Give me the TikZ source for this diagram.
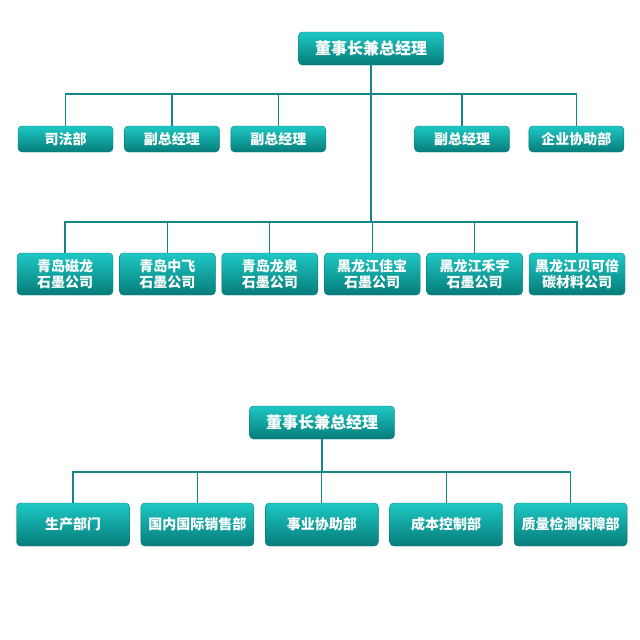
\documentclass[tikz,border=0pt]{standalone}
\usepackage{fontspec}
\newfontfamily\cjk{Noto Sans CJK SC}
\usetikzlibrary{positioning}
\definecolor{tealtop}{RGB}{30,200,196}
\definecolor{tealbot}{RGB}{6,124,122}
\definecolor{tealline}{RGB}{20,136,136}
\tikzstyle{post} = [rectangle,rounded corners=4pt,inner sep=0pt,minimum height=26pt,minimum width=95pt,text centered,draw=tealbot,top color=tealtop,bottom color=tealbot,text=white,font=\cjk\bfseries\fontsize{14}{16}\selectfont]
\tikzstyle{boss} = [post,minimum width=145pt,minimum height=33pt,font=\cjk\bfseries\fontsize{16}{18}\selectfont]
\tikzstyle{link} = [draw=tealline,line width=1.2pt]

\begin{document}
\begin{tikzpicture}[x=1pt,y=-1pt,every text node part/.style={align=center}]
\useasboundingbox (0,0) rectangle (640,640);

\node(boss1)[boss] at (371,48.5) {董事长兼总经理};

\node(r1a)[post] at (65.5,139) {司法部};
\node(r1b)[post,right=11pt of r1a]{副总经理};
\node(r1c)[post,right=11pt of r1b]{副总经理};
\node(r1d)[post] at (462,139) {副总经理};
\node(r1e)[post,right=19pt of r1d]{企业协助部};

\node(r2a)[post,minimum width=96pt,minimum height=42pt] at (65,274) {青岛磁龙\\石墨公司};
\node(r2b)[post,minimum width=96pt,minimum height=42pt,right=6pt of r2a]{青岛中飞\\石墨公司};
\node(r2c)[post,minimum width=96pt,minimum height=42pt,right=6pt of r2b]{青岛龙泉\\石墨公司};
\node(r2d)[post,minimum width=96pt,minimum height=42pt,right=6pt of r2c]{黑龙江佳宝\\石墨公司};
\node(r2e)[post,minimum width=96pt,minimum height=42pt,right=6pt of r2d]{黑龙江禾宇\\石墨公司};
\node(r2f)[post,minimum width=96pt,minimum height=42pt,right=6pt of r2e]{黑龙江贝可倍\\碳材料公司};

\node(boss2)[boss] at (322,422.5) {董事长兼总经理};

\node(d1)[post,minimum width=113pt,minimum height=43pt] at (73,524.5) {生产部门};
\node(d2)[post,minimum width=113pt,minimum height=43pt,right=11pt of d1]{国内国际销售部};
\node(d3)[post,minimum width=113pt,minimum height=43pt,right=11pt of d2]{事业协助部};
\node(d4)[post,minimum width=113pt,minimum height=43pt,right=11pt of d3]{成本控制部};
\node(d5)[post,minimum width=113pt,minimum height=43pt,right=11pt of d4]{质量检测保障部};

\coordinate(bus1) at (boss1.south |- 0,94);
\coordinate(bus2) at (boss1.south |- 0,222);
\coordinate(bus3) at (boss2.south |- 0,472);

\draw[link] (boss1.south) -- (bus2);
\foreach \n in {r1a,r1b,r1c,r1d,r1e} \draw[link] (bus1) -| (\n.north);
\foreach \n in {r2a,r2b,r2c,r2d,r2e,r2f} \draw[link] (bus2) -| (\n.north);
\draw[link] (boss2.south) -- (bus3);
\foreach \n in {d1,d2,d3,d4,d5} \draw[link] (bus3) -| (\n.north);

\end{tikzpicture}
\end{document}
